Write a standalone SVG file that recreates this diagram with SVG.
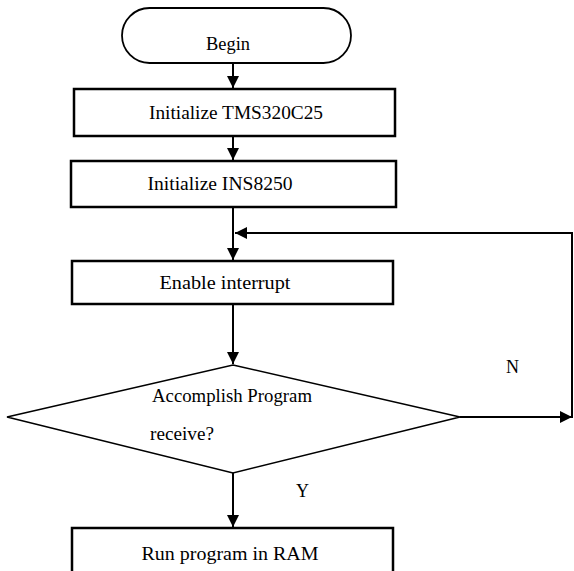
<svg xmlns="http://www.w3.org/2000/svg" width="574" height="571" viewBox="0 0 574 571">
<style>
  .box{fill:#fff;stroke:#000;stroke-width:2.5}
  .term{fill:#fff;stroke:#000;stroke-width:1.8}
  .dia{fill:#fff;stroke:#000;stroke-width:1.5}
  .ln{fill:none;stroke:#000;stroke-width:2}
  text{font-family:'Liberation Serif','Times New Roman','DejaVu Serif',serif;font-size:18px;fill:#000}
  .c{text-anchor:middle}
</style>
<defs>
  <marker id="ah" viewBox="0 0 12 12" refX="12" refY="6" markerWidth="12" markerHeight="12" markerUnits="userSpaceOnUse" orient="auto">
    <path d="M0,0 L12,6 L0,12 Z" fill="#000"/>
  </marker>
</defs>
<g id="connectors">
  <line class="ln" x1="233" y1="63" x2="233" y2="88" marker-end="url(#ah)"/>
  <line class="ln" x1="233" y1="136" x2="233" y2="160" marker-end="url(#ah)"/>
  <line class="ln" x1="233" y1="207" x2="233" y2="260" marker-end="url(#ah)"/>
  <line class="ln" x1="460" y1="417" x2="572" y2="417" marker-end="url(#ah)"/>
  <polyline class="ln" points="572,418 572,233 235,233" marker-end="url(#ah)"/>
  <line class="ln" x1="233" y1="304" x2="233" y2="364" marker-end="url(#ah)"/>
  <line class="ln" x1="233" y1="473" x2="233" y2="527" marker-end="url(#ah)"/>
</g>
<g id="begin">
  <rect class="term" x="122" y="8" width="229" height="55" rx="27.5" ry="27.5"/>
  <text class="c" x="228" y="50" textLength="44" lengthAdjust="spacingAndGlyphs">Begin</text>
</g>
<g id="init-tms">
  <rect class="box" x="74" y="89" width="321" height="47"/>
  <text class="c" x="236" y="119" textLength="174" lengthAdjust="spacingAndGlyphs">Initialize TMS320C25</text>
</g>
<g id="init-ins">
  <rect class="box" x="71" y="161" width="325" height="46"/>
  <text class="c" x="220" y="190" textLength="145" lengthAdjust="spacingAndGlyphs">Initialize INS8250</text>
</g>
<g id="enable">
  <rect class="box" x="72" y="261" width="321" height="43"/>
  <text class="c" x="225" y="289" textLength="131" lengthAdjust="spacingAndGlyphs">Enable interrupt</text>
</g>
<g id="decision">
  <polygon class="dia" points="233,365 460,417 233,473 7,417"/>
  <text x="152" y="402" textLength="160" lengthAdjust="spacingAndGlyphs">Accomplish Program</text>
  <text x="150" y="440" textLength="64" lengthAdjust="spacingAndGlyphs">receive?</text>
</g>
<g id="labels">
  <text x="506" y="373">N</text>
  <text x="296" y="497">Y</text>
</g>
<g id="run">
  <rect class="box" x="72" y="528" width="321" height="50"/>
  <text class="c" x="230" y="560" textLength="177" lengthAdjust="spacingAndGlyphs">Run program in RAM</text>
</g>
</svg>
